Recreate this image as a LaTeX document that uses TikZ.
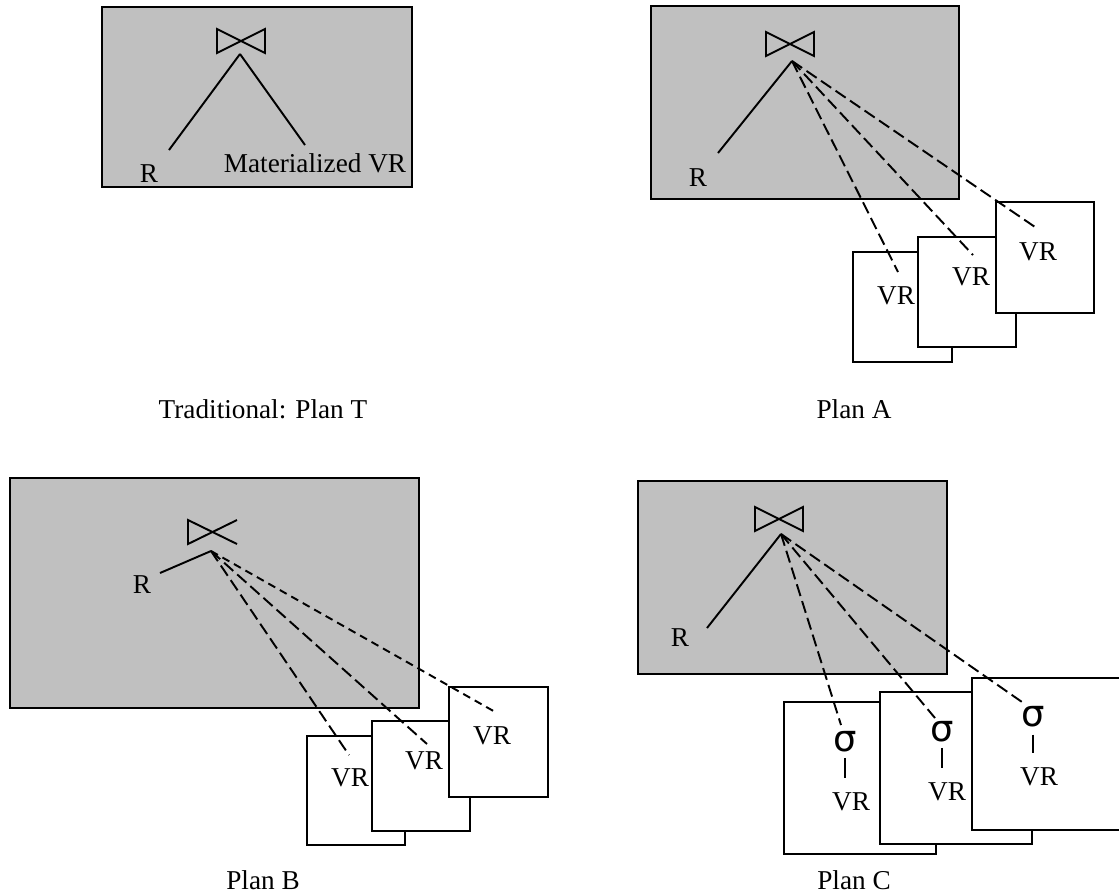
\documentclass[tikz,border=0pt]{standalone}
\usepackage{fontspec}
\setmainfont{Liberation Serif}
\newfontfamily\sigmafont{DejaVu Sans}
\usetikzlibrary{positioning}
\definecolor{plangray}{RGB}{192,192,192}
\tikzset{
  planbox/.style={draw, line width=1.3pt, fill=plangray},
  vrbox/.style={draw, line width=1.3pt, fill=white},
  txt/.style={inner sep=0pt, font=\fontsize{15.5}{18}\selectfont},
  sig/.style={inner sep=0pt, font=\sigmafont\fontsize{21}{24}\selectfont},
  solidlink/.style={line width=1.1pt},
  dashlink/.style={line width=1.1pt, dash pattern=on 7pt off 3pt},
  shortdashlink/.style={line width=1.1pt, dash pattern=on 4.5pt off 3pt},
  pics/bowtie/.style={code={\draw[line width=1.1pt] (-24,-12) -- (24,12) -- (24,-12) -- (-24,12) -- cycle;}},
  pics/semijoin/.style={code={\draw[line width=1.1pt] (25,-12) -- (-24,12) -- (-24,-12) -- (25,12);}}
}
\begin{document}
\begin{tikzpicture}[x=0.02cm, y=-0.02cm]
\path[use as bounding box, clip] (0,0) rectangle (1119,894);

% Traditional: Plan T
\draw[planbox] (102,7) rectangle (412,187);
\pic at (241,41) {bowtie};
\coordinate (tj) at (240,54);
\coordinate (tre) at (169,150);
\coordinate (tve) at (305,145);
\node[txt] (tr) at (149,174) {R};
\node[txt] (tvr) at (315,163) {Materialized VR};
\draw[solidlink] (tj) -- (tre);
\draw[solidlink] (tj) -- (tve);
\node[txt] (tcap) at (263,409) {Traditional: Plan T};

% Plan A
\draw[planbox] (651,6) rectangle (959,199);
\pic at (790,44) {bowtie};
\coordinate (aj) at (792,61);
\coordinate (are) at (718,153);
\node[txt] (ar) at (698,178) {R};
\draw[solidlink] (aj) -- (are);
\draw[vrbox] (853,252) rectangle (952,362);
\draw[vrbox] (918,237) rectangle (1016,347);
\draw[vrbox] (996,202) rectangle (1094,313);
\node[txt] (av1) at (896,296) {VR};
\node[txt] (av2) at (971,277) {VR};
\node[txt] (av3) at (1038,252) {VR};
\coordinate (ae1) at (898,272);
\coordinate (ae2) at (973,255);
\coordinate (ae3) at (1035,227);
\draw[dashlink] (aj) -- (ae1);
\draw[dashlink] (aj) -- (ae2);
\draw[dashlink] (aj) -- (ae3);
\node[txt] (acap) at (854,409) {Plan A};

% Plan B
\draw[planbox] (10,478) rectangle (419,708);
\pic at (212,532) {semijoin};
\coordinate (bj) at (211,551);
\coordinate (bre) at (160,573);
\node[txt] (br) at (142,585) {R};
\draw[solidlink] (bj) -- (bre);
\draw[vrbox] (307,736) rectangle (405,845);
\draw[vrbox] (372,721) rectangle (470,831);
\draw[vrbox] (449,687) rectangle (548,797);
\node[txt] (bv1) at (350,778) {VR};
\node[txt] (bv2) at (424,761) {VR};
\node[txt] (bv3) at (492,736) {VR};
\coordinate (be1) at (349,755);
\coordinate (be2) at (427,744);
\coordinate (be3) at (497,713);
\draw[dashlink] (bj) -- (be1);
\draw[dashlink] (bj) -- (be2);
\draw[shortdashlink] (bj) -- (be3);
\node[txt] (bcap) at (263,880) {Plan B};

% Plan C
\draw[planbox] (638,481) rectangle (947,674);
\pic at (779,519) {bowtie};
\coordinate (cj) at (781,534);
\coordinate (cre) at (707,628);
\node[txt] (cr) at (680,638) {R};
\draw[solidlink] (cj) -- (cre);
\draw[vrbox] (784,702) rectangle (936,854);
\draw[vrbox] (880,692) rectangle (1032,844);
\draw[vrbox] (972,678) rectangle (1130,830);
\node[sig] (cs1) at (845,742) {σ};
\node[sig] (cs2) at (942,732) {σ};
\node[sig] (cs3) at (1033,717) {σ};
\node[txt] (cv1) at (851,802) {VR};
\node[txt] (cv2) at (947,792) {VR};
\node[txt] (cv3) at (1039,777) {VR};
\draw[solidlink, shorten <=3pt, shorten >=8pt] (cs1.south) -- (cs1.south |- cv1.north);
\draw[solidlink, shorten <=3pt, shorten >=8pt] (cs2.south) -- (cs2.south |- cv2.north);
\draw[solidlink, shorten <=4pt, shorten >=8pt] (cs3.south) -- (cs3.south |- cv3.north);
\coordinate (ce1) at (841,725);
\coordinate (ce2) at (935,718);
\coordinate (ce3) at (1022,702);
\draw[dashlink] (cj) -- (ce1);
\draw[dashlink] (cj) -- (ce2);
\draw[dashlink] (cj) -- (ce3);
\node[txt] (ccap) at (854,880) {Plan C};
\end{tikzpicture}
\end{document}
